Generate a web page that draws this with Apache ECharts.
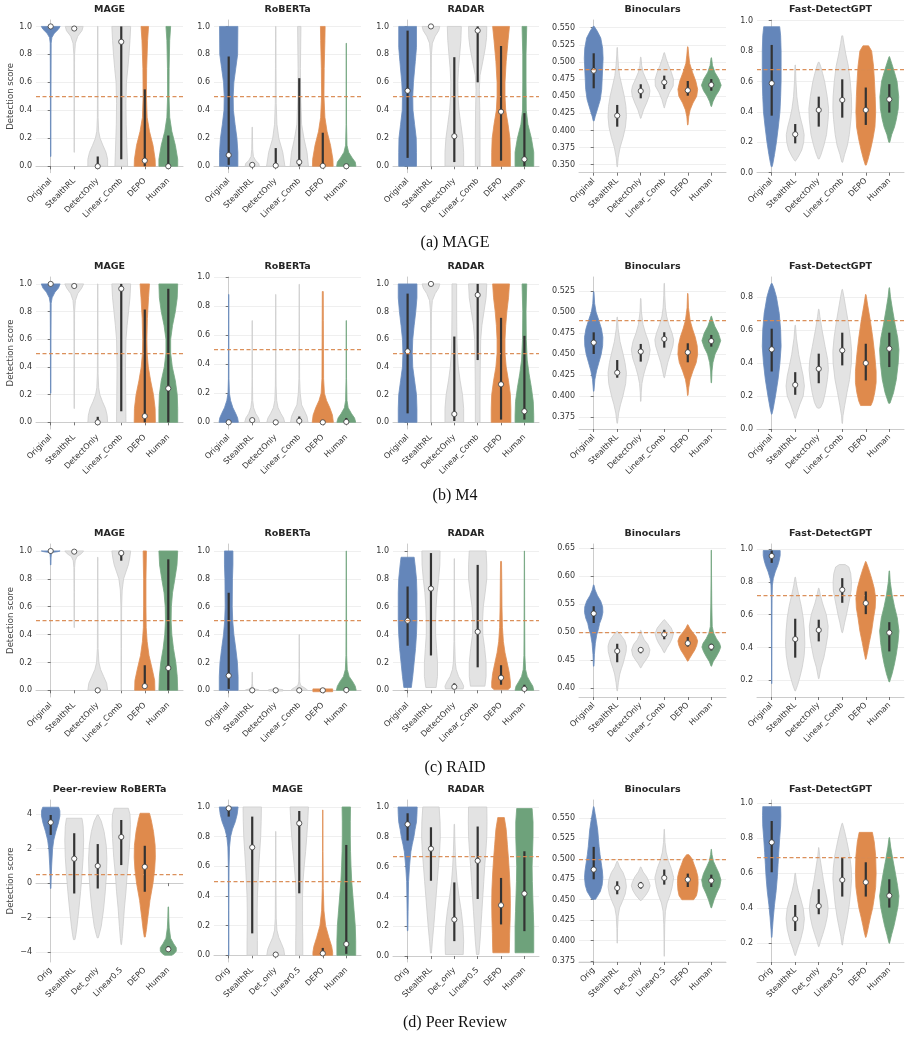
<!DOCTYPE html>
<html>
<head>
<meta charset="utf-8">
<script src="https://cdn.jsdelivr.net/npm/echarts@6/dist/echarts.min.js"></script>
<style>
  html, body { margin: 0; padding: 0; background: #fff; }
  #main { width: 911px; height: 1038px; }
</style>
</head>
<body>
<div id="main"></div>
<script>
// categories
var catsMain = ['Original', 'StealthRL', 'DetectOnly', 'Linear_Comb', 'DEPO', 'Human'];
var catsPeer = ['Orig', 'StealthRL', 'Det_only', 'Linear0.5', 'DEPO', 'Human'];

// y ticks
var ticks01 = [0, 0.2, 0.4, 0.6, 0.8, 1.0];
var ticksHi = [0.2, 0.4, 0.6, 0.8, 1.0];
var ticksFdgB = [0, 0.2, 0.4, 0.6, 0.8];
var ticksBinoA = [0.35, 0.375, 0.4, 0.425, 0.45, 0.475, 0.5, 0.525, 0.55];
var ticksBinoB = [0.375, 0.4, 0.425, 0.45, 0.475, 0.5, 0.525];
var ticksBinoC = [0.4, 0.45, 0.5, 0.55, 0.6, 0.65];
var ticksBinoD = [0.375, 0.4, 0.425, 0.45, 0.475, 0.5, 0.525, 0.55];
var ticksPeer = [-4, -2, 0, 2, 4];

// y limits
var limDetA = [-0.046, 1.046], limBinoA = [0.3383, 0.5612], limFdgA = [0, 1.004];
var limDetB = [-0.048, 1.05], limRobB = [-0.046, 1.0], limBinoB = [0.3611, 0.5416], limFdgB = [0, 0.92];
var limDetC = [-0.048, 1.05], limBinoC = [0.384, 0.657], limFdgC = [0.0985, 1.03];
var limPeerD = [-4.58, 4.83], limMageD = [-0.045, 1.047], limRadarD = [-0.04, 1.047], limBinoD = [0.374, 0.5717], limFdgD = [0.093, 1.019];

// dashed thresholds per row
var thrA = [0.5, 0.5, 0.5, 0.487, 0.68];
var thrB = [0.5, 0.5, 0.5, 0.49, 0.662];
var thrC = [0.5, 0.5, 0.5, 0.497, 0.716];
var thrD = [0.5, 0.5, 0.673, 0.497, 0.695];

// violin outlines: [score, half width] ; boxes: [low, high, median]
// ---- (a) MAGE
var a1_shape = [
  [[0.07,0.008],[0.5,0.012],[0.88,0.02],[0.92,0.05],[0.95,0.15],[0.98,0.33],[1,0.4]],
  [[0.1,0.006],[0.5,0.01],[0.8,0.015],[0.88,0.05],[0.93,0.15],[0.97,0.33],[1,0.38]],
  [[0,0.42],[0.05,0.42],[0.1,0.35],[0.15,0.22],[0.2,0.1],[0.25,0.04],[0.35,0.015],[0.6,0.01],[1,0.01]],
  [[0,0.27],[0.1,0.25],[0.2,0.23],[0.3,0.21],[0.45,0.2],[0.6,0.22],[0.7,0.28],[0.8,0.33],[0.9,0.37],[1,0.4]],
  [[0,0.45],[0.05,0.44],[0.15,0.35],[0.25,0.2],[0.35,0.1],[0.5,0.07],[0.7,0.08],[0.9,0.12],[1,0.16]],
  [[0,0.4],[0.05,0.4],[0.15,0.3],[0.25,0.15],[0.35,0.06],[0.5,0.03],[0.7,0.035],[0.9,0.06],[1,0.1]]
];
var a1_box = [[0.99,1,1],[0.975,0.995,0.985],[0,0.07,0],[0.05,1,0.89],[0,0.55,0.04],[0,0.22,0]];

var a2_shape = [
  [[0,0.39],[0.1,0.39],[0.2,0.35],[0.3,0.27],[0.4,0.2],[0.5,0.19],[0.6,0.22],[0.7,0.3],[0.8,0.38],[1,0.39]],
  [[0,0.3],[0.02,0.28],[0.04,0.15],[0.07,0.05],[0.12,0.02],[0.28,0.005]],
  [[0,0.39],[0.1,0.3],[0.2,0.13],[0.3,0.05],[0.45,0.02],[0.7,0.012],[1,0.008]],
  [[0,0.39],[0.1,0.33],[0.2,0.2],[0.3,0.1],[0.5,0.06],[0.7,0.05],[1,0.07]],
  [[0,0.44],[0.05,0.43],[0.15,0.33],[0.25,0.18],[0.35,0.09],[0.5,0.05],[0.7,0.06],[0.9,0.09],[1,0.1]],
  [[0,0.41],[0.03,0.38],[0.06,0.25],[0.1,0.1],[0.15,0.03],[0.3,0.01],[0.88,0.005]]
];
var a2_box = [[0.01,0.785,0.08],[0.005,0.02,0.01],[0,0.13,0.005],[0,0.63,0.03],[0,0.24,0.003],[0,0.01,0]];

var a3_shape = [
  [[0,0.38],[0.1,0.38],[0.2,0.37],[0.3,0.3],[0.4,0.23],[0.5,0.22],[0.6,0.25],[0.75,0.33],[0.85,0.38],[1,0.38]],
  [[0,0.008],[0.5,0.01],[0.8,0.02],[0.88,0.06],[0.93,0.18],[0.97,0.33],[1,0.38]],
  [[0,0.4],[0.1,0.4],[0.2,0.36],[0.3,0.28],[0.4,0.2],[0.5,0.16],[0.6,0.15],[0.7,0.18],[0.8,0.23],[0.9,0.28],[1,0.3]],
  [[0,0.1],[0.2,0.1],[0.4,0.09],[0.55,0.07],[0.65,0.1],[0.75,0.22],[0.85,0.33],[0.92,0.38],[1,0.39]],
  [[0,0.4],[0.1,0.4],[0.2,0.38],[0.3,0.3],[0.4,0.2],[0.5,0.17],[0.6,0.17],[0.75,0.22],[0.9,0.3],[1,0.36]],
  [[0,0.4],[0.1,0.4],[0.2,0.3],[0.3,0.15],[0.4,0.08],[0.6,0.07],[0.8,0.07],[1,0.1]]
];
var a3_box = [[0.06,0.97,0.54],[0.995,1,1],[0.03,0.78,0.215],[0.6,1,0.97],[0.04,0.86,0.39],[0,0.38,0.05]];

var a4_shape = [
  [[0.414,0.02],[0.42,0.06],[0.43,0.15],[0.445,0.28],[0.46,0.34],[0.475,0.36],[0.49,0.38],[0.505,0.4],[0.52,0.38],[0.535,0.3],[0.545,0.15],[0.552,0.02]],
  [[0.347,0.01],[0.36,0.04],[0.375,0.12],[0.39,0.25],[0.405,0.35],[0.42,0.39],[0.435,0.37],[0.45,0.3],[0.465,0.2],[0.48,0.1],[0.495,0.05],[0.51,0.02],[0.521,0.01]],
  [[0.4177,0.01],[0.42,0.03],[0.43,0.12],[0.44,0.25],[0.45,0.36],[0.458,0.39],[0.465,0.35],[0.475,0.22],[0.485,0.1],[0.495,0.04],[0.507,0.01]],
  [[0.433,0.01],[0.435,0.02],[0.445,0.1],[0.455,0.22],[0.465,0.38],[0.475,0.39],[0.485,0.3],[0.495,0.18],[0.505,0.08],[0.5135,0.01]],
  [[0.408,0.01],[0.42,0.04],[0.43,0.1],[0.44,0.22],[0.45,0.38],[0.46,0.42],[0.472,0.34],[0.485,0.2],[0.498,0.08],[0.51,0.04],[0.522,0.01]],
  [[0.435,0.01],[0.442,0.07],[0.45,0.18],[0.458,0.33],[0.466,0.42],[0.475,0.32],[0.485,0.15],[0.495,0.05],[0.506,0.01]]
];
var a4_box = [[0.4615,0.5126,0.4873],[0.4055,0.4372,0.4216],[0.4469,0.4674,0.4576],[0.4605,0.48,0.4703],[0.4507,0.4722,0.4585],[0.458,0.475,0.4664]];

var a5_shape = [
  [[0.04,0.02],[0.06,0.05],[0.12,0.12],[0.2,0.2],[0.3,0.28],[0.4,0.35],[0.5,0.38],[0.6,0.4],[0.7,0.4],[0.8,0.4],[0.9,0.38],[0.96,0.34]],
  [[0.077,0.01],[0.08,0.03],[0.11,0.15],[0.15,0.28],[0.2,0.36],[0.25,0.38],[0.3,0.32],[0.36,0.22],[0.42,0.14],[0.5,0.07],[0.6,0.03],[0.708,0.01]],
  [[0.09,0.02],[0.12,0.1],[0.18,0.22],[0.25,0.33],[0.35,0.4],[0.42,0.42],[0.5,0.36],[0.6,0.25],[0.65,0.17],[0.7,0.08],[0.726,0.02]],
  [[0.068,0.01],[0.07,0.02],[0.12,0.1],[0.18,0.22],[0.25,0.3],[0.35,0.37],[0.42,0.4],[0.5,0.39],[0.6,0.34],[0.7,0.26],[0.78,0.15],[0.85,0.07],[0.9,0.02]],
  [[0.05,0.02],[0.09,0.1],[0.15,0.2],[0.22,0.3],[0.3,0.39],[0.4,0.42],[0.5,0.4],[0.6,0.37],[0.7,0.33],[0.8,0.25],[0.834,0.12]],
  [[0.2,0.02],[0.25,0.1],[0.3,0.22],[0.35,0.3],[0.42,0.38],[0.5,0.4],[0.6,0.33],[0.66,0.22],[0.72,0.1],[0.763,0.01]]
];
var a5_box = [[0.375,0.84,0.588],[0.193,0.32,0.2524],[0.303,0.5,0.412],[0.362,0.614,0.478],[0.314,0.56,0.412],[0.395,0.582,0.482]];

// ---- (b) M4
var b1_shape = [
  [[0.21,0.008],[0.6,0.012],[0.86,0.02],[0.9,0.06],[0.94,0.18],[0.97,0.33],[1,0.4]],
  [[0.1,0.006],[0.5,0.01],[0.8,0.015],[0.88,0.05],[0.93,0.15],[0.97,0.32],[1,0.4]],
  [[0,0.42],[0.05,0.4],[0.1,0.33],[0.15,0.2],[0.2,0.09],[0.25,0.04],[0.35,0.015],[0.6,0.01],[1,0.008]],
  [[0,0.2],[0.2,0.19],[0.4,0.18],[0.6,0.2],[0.7,0.25],[0.8,0.31],[0.9,0.37],[1,0.4]],
  [[0,0.45],[0.1,0.44],[0.2,0.37],[0.3,0.25],[0.4,0.15],[0.5,0.1],[0.6,0.09],[0.75,0.11],[0.9,0.16],[1,0.2]],
  [[0,0.4],[0.1,0.4],[0.2,0.38],[0.3,0.3],[0.4,0.17],[0.5,0.1],[0.6,0.1],[0.7,0.18],[0.8,0.3],[0.9,0.38],[1,0.4]]
];
var b1_box = [[0.995,1,1],[0.97,0.995,0.985],[0,0.04,0],[0.08,1,0.965],[0,0.815,0.045],[0,0.965,0.245]];

var b2_shape = [
  [[0,0.41],[0.03,0.38],[0.06,0.3],[0.1,0.18],[0.15,0.08],[0.2,0.03],[0.3,0.012],[0.6,0.008],[0.88,0.005]],
  [[0,0.32],[0.03,0.27],[0.06,0.15],[0.1,0.06],[0.15,0.02],[0.3,0.008],[0.7,0.005]],
  [[0,0.38],[0.03,0.33],[0.06,0.22],[0.1,0.1],[0.15,0.04],[0.25,0.015],[0.5,0.008],[0.88,0.005]],
  [[0,0.37],[0.04,0.33],[0.08,0.22],[0.12,0.1],[0.2,0.04],[0.3,0.015],[0.6,0.008],[0.95,0.005]],
  [[0,0.45],[0.05,0.41],[0.1,0.3],[0.15,0.16],[0.2,0.07],[0.3,0.035],[0.5,0.03],[0.7,0.025],[0.9,0.02]],
  [[0,0.4],[0.03,0.35],[0.06,0.22],[0.1,0.08],[0.15,0.03],[0.3,0.01],[0.7,0.005]]
];
var b2_box = [[0,0.005,0],[0.005,0.03,0.015],[0,0.005,0],[0,0.04,0.01],[0,0.005,0],[0,0.03,0.003]];

var b3_shape = [
  [[0,0.4],[0.1,0.4],[0.2,0.38],[0.3,0.3],[0.4,0.22],[0.5,0.2],[0.6,0.22],[0.7,0.28],[0.8,0.35],[0.9,0.4],[1,0.4]],
  [[0,0.008],[0.5,0.01],[0.8,0.02],[0.88,0.06],[0.93,0.18],[0.97,0.33],[1,0.38]],
  [[0,0.4],[0.1,0.4],[0.2,0.35],[0.3,0.25],[0.4,0.17],[0.5,0.13],[0.6,0.11],[0.8,0.1],[1,0.1]],
  [[0,0.1],[0.2,0.1],[0.4,0.11],[0.6,0.13],[0.7,0.18],[0.8,0.27],[0.9,0.36],[1,0.39]],
  [[0,0.42],[0.1,0.42],[0.2,0.4],[0.3,0.32],[0.4,0.22],[0.5,0.17],[0.6,0.17],[0.7,0.2],[0.8,0.25],[0.9,0.32],[1,0.36]],
  [[0,0.4],[0.05,0.4],[0.15,0.38],[0.25,0.3],[0.35,0.2],[0.45,0.12],[0.6,0.08],[0.8,0.07],[1,0.1]]
];
var b3_box = [[0.065,0.93,0.513],[0.995,1,1],[0.01,0.62,0.06],[0.45,1,0.92],[0.02,0.755,0.275],[0.02,0.625,0.08]];

var b4_shape = [
  [[0.406,0.01],[0.42,0.05],[0.43,0.12],[0.44,0.22],[0.45,0.32],[0.46,0.38],[0.47,0.39],[0.48,0.33],[0.49,0.22],[0.5,0.1],[0.51,0.04],[0.524,0.01]],
  [[0.368,0.01],[0.38,0.06],[0.39,0.14],[0.4,0.24],[0.415,0.36],[0.428,0.39],[0.44,0.33],[0.45,0.25],[0.465,0.12],[0.48,0.04],[0.494,0.01]],
  [[0.394,0.01],[0.404,0.02],[0.415,0.05],[0.425,0.12],[0.435,0.22],[0.445,0.34],[0.455,0.4],[0.465,0.33],[0.475,0.2],[0.485,0.1],[0.5,0.03],[0.516,0.01]],
  [[0.422,0.01],[0.43,0.07],[0.44,0.15],[0.45,0.26],[0.46,0.37],[0.467,0.4],[0.475,0.33],[0.485,0.2],[0.495,0.1],[0.505,0.05],[0.52,0.02],[0.534,0.01]],
  [[0.401,0.01],[0.41,0.04],[0.42,0.1],[0.43,0.22],[0.44,0.36],[0.45,0.42],[0.46,0.4],[0.47,0.32],[0.48,0.2],[0.49,0.1],[0.505,0.03],[0.522,0.01]],
  [[0.416,0.01],[0.43,0.03],[0.44,0.07],[0.45,0.16],[0.458,0.3],[0.466,0.4],[0.475,0.3],[0.483,0.15],[0.49,0.06],[0.495,0.01]]
];
var b4_box = [[0.4502,0.4759,0.4637],[0.422,0.443,0.428],[0.4411,0.4621,0.453],[0.4577,0.476,0.468],[0.4403,0.4629,0.4522],[0.4589,0.4728,0.4656]];

var b5_shape = [
  [[0.09,0.01],[0.12,0.06],[0.2,0.16],[0.3,0.27],[0.4,0.35],[0.5,0.4],[0.6,0.38],[0.7,0.32],[0.8,0.2],[0.85,0.1],[0.88,0.02]],
  [[0.065,0.01],[0.1,0.08],[0.15,0.2],[0.2,0.34],[0.26,0.39],[0.32,0.34],[0.38,0.25],[0.45,0.15],[0.55,0.05],[0.628,0.01]],
  [[0.126,0.02],[0.13,0.08],[0.16,0.18],[0.22,0.28],[0.3,0.37],[0.36,0.41],[0.42,0.38],[0.5,0.27],[0.6,0.14],[0.68,0.05],[0.725,0.01]],
  [[0.034,0.01],[0.08,0.03],[0.14,0.1],[0.22,0.2],[0.3,0.31],[0.4,0.39],[0.47,0.4],[0.55,0.35],[0.65,0.25],[0.75,0.13],[0.8,0.07],[0.845,0.01]],
  [[0.142,0.22],[0.17,0.3],[0.22,0.38],[0.28,0.44],[0.35,0.44],[0.45,0.38],[0.55,0.3],[0.65,0.2],[0.75,0.08],[0.814,0.01]],
  [[0.156,0.03],[0.22,0.18],[0.3,0.3],[0.4,0.38],[0.48,0.41],[0.55,0.36],[0.63,0.25],[0.72,0.14],[0.8,0.05],[0.855,0.01]]
];
var b5_box = [[0.348,0.607,0.482],[0.207,0.344,0.267],[0.277,0.456,0.364],[0.385,0.583,0.476],[0.294,0.516,0.399],[0.375,0.583,0.486]];

// ---- (c) RAID
var c1_shape = [
  [[0.9,0.01],[0.95,0.015],[0.98,0.03],[0.99,0.1],[0.995,0.3],[1,0.4]],
  [[0.45,0.006],[0.7,0.01],[0.88,0.015],[0.93,0.04],[0.96,0.12],[0.98,0.3],[1,0.4]],
  [[0,0.42],[0.05,0.38],[0.1,0.25],[0.15,0.12],[0.2,0.05],[0.3,0.015],[0.6,0.01],[0.955,0.006]],
  [[0,0.008],[0.3,0.01],[0.6,0.015],[0.72,0.04],[0.8,0.1],[0.85,0.2],[0.9,0.3],[0.95,0.36],[1,0.4]],
  [[0,0.43],[0.07,0.42],[0.15,0.32],[0.25,0.18],[0.35,0.1],[0.45,0.06],[0.6,0.05],[0.8,0.05],[1,0.07]],
  [[0,0.4],[0.1,0.38],[0.2,0.32],[0.3,0.22],[0.4,0.15],[0.5,0.12],[0.6,0.13],[0.7,0.18],[0.8,0.28],[0.9,0.37],[1,0.4]]
];
var c1_box = [[0.995,1,1],[0.985,1,0.995],[0,0.01,0],[0.93,1,0.985],[0.01,0.18,0.03],[0,0.94,0.16]];

var c2_shape = [
  [[0,0.4],[0.1,0.4],[0.2,0.37],[0.3,0.3],[0.4,0.22],[0.5,0.17],[0.6,0.15],[0.8,0.16],[0.9,0.18],[1,0.18]],
  [[0,0.3],[0.005,0.25],[0.01,0.1],[0.02,0.03],[0.05,0.01],[0.13,0.005]],
  [[-0.005,0.3],[0.005,0.3],[0.01,0.02]],
  [[0,0.35],[0.01,0.3],[0.02,0.2],[0.035,0.06],[0.06,0.02],[0.15,0.01],[0.4,0.005]],
  [[-0.01,0.42],[0.01,0.42]],
  [[0,0.42],[0.03,0.38],[0.06,0.28],[0.1,0.12],[0.15,0.04],[0.25,0.015],[0.6,0.01],[1,0.005]]
];
var c2_box = [[0.01,0.7,0.105],[0,0.005,0],[0,0.003,0],[0,0.01,0],[0,0.002,0],[0,0.02,0.002]];

var c3_shape = [
  [[0.02,0.16],[0.1,0.22],[0.2,0.28],[0.3,0.34],[0.4,0.38],[0.5,0.4],[0.6,0.4],[0.7,0.4],[0.8,0.38],[0.9,0.32],[0.955,0.28]],
  [[0.02,0.22],[0.1,0.28],[0.2,0.28],[0.3,0.24],[0.4,0.2],[0.5,0.2],[0.6,0.22],[0.7,0.26],[0.8,0.33],[0.9,0.38],[1,0.39]],
  [[0.01,0.38],[0.03,0.4],[0.06,0.32],[0.1,0.18],[0.15,0.08],[0.2,0.04],[0.35,0.015],[0.945,0.006]],
  [[0.03,0.31],[0.1,0.36],[0.2,0.36],[0.3,0.3],[0.4,0.22],[0.5,0.21],[0.6,0.24],[0.7,0.32],[0.8,0.39],[0.9,0.39],[1,0.36]],
  [[0.005,0.3],[0.02,0.4],[0.06,0.4],[0.12,0.36],[0.2,0.26],[0.27,0.17],[0.35,0.1],[0.45,0.06],[0.6,0.04],[0.8,0.03],[0.925,0.02]],
  [[0,0.4],[0.03,0.36],[0.06,0.25],[0.1,0.12],[0.15,0.05],[0.25,0.02],[0.5,0.012],[1,0.005]]
];
var c3_box = [[0.32,0.745,0.5],[0.25,0.985,0.73],[0.015,0.05,0.025],[0.165,0.9,0.42],[0.04,0.18,0.09],[0,0.04,0.01]];

var c4_shape = [
  [[0.439,0.01],[0.46,0.03],[0.48,0.07],[0.495,0.13],[0.505,0.2],[0.515,0.25],[0.525,0.34],[0.535,0.39],[0.545,0.38],[0.555,0.3],[0.565,0.16],[0.575,0.06],[0.584,0.01]],
  [[0.395,0.01],[0.41,0.05],[0.425,0.11],[0.435,0.18],[0.445,0.26],[0.455,0.32],[0.465,0.38],[0.475,0.39],[0.485,0.32],[0.495,0.15],[0.501,0.02]],
  [[0.436,0.01],[0.443,0.1],[0.45,0.22],[0.458,0.34],[0.468,0.39],[0.478,0.3],[0.486,0.15],[0.495,0.05],[0.503,0.01]],
  [[0.463,0.01],[0.472,0.12],[0.48,0.24],[0.488,0.33],[0.497,0.39],[0.507,0.3],[0.515,0.15],[0.522,0.01]],
  [[0.448,0.01],[0.453,0.08],[0.46,0.18],[0.468,0.3],[0.476,0.38],[0.484,0.42],[0.492,0.35],[0.5,0.2],[0.507,0.08],[0.513,0.01]],
  [[0.439,0.01],[0.447,0.08],[0.455,0.2],[0.465,0.33],[0.473,0.4],[0.48,0.35],[0.488,0.22],[0.498,0.1],[0.51,0.04],[0.55,0.02],[0.6,0.01],[0.646,0.005]]
];
var c4_box = [[0.516,0.546,0.533],[0.446,0.479,0.466],[0.462,0.473,0.468],[0.487,0.504,0.496],[0.474,0.491,0.48],[0.467,0.479,0.4736]];

var c5_shape = [
  [[0.18,0.006],[0.5,0.01],[0.7,0.015],[0.78,0.03],[0.82,0.07],[0.86,0.15],[0.9,0.26],[0.93,0.32],[0.96,0.36],[0.99,0.36]],
  [[0.135,0.01],[0.17,0.1],[0.22,0.2],[0.28,0.3],[0.35,0.38],[0.42,0.41],[0.5,0.39],[0.58,0.34],[0.65,0.26],[0.72,0.15],[0.78,0.06],[0.828,0.01]],
  [[0.21,0.01],[0.28,0.1],[0.34,0.22],[0.4,0.3],[0.47,0.38],[0.53,0.4],[0.6,0.32],[0.67,0.16],[0.72,0.07],[0.761,0.01]],
  [[0.49,0.01],[0.5,0.03],[0.55,0.1],[0.6,0.18],[0.65,0.25],[0.7,0.32],[0.75,0.38],[0.8,0.39],[0.85,0.36],[0.89,0.28],[0.905,0.12]],
  [[0.328,0.01],[0.37,0.07],[0.43,0.15],[0.5,0.25],[0.58,0.33],[0.64,0.4],[0.7,0.42],[0.76,0.36],[0.82,0.25],[0.88,0.12],[0.923,0.01]],
  [[0.19,0.01],[0.24,0.12],[0.3,0.22],[0.36,0.3],[0.43,0.37],[0.5,0.41],[0.58,0.34],[0.65,0.22],[0.72,0.12],[0.8,0.04],[0.866,0.01]]
];
var c5_box = [[0.915,0.99,0.957],[0.338,0.575,0.451],[0.437,0.569,0.506],[0.672,0.822,0.751],[0.603,0.741,0.67],[0.376,0.554,0.49]];

// ---- (d) Peer Review
var d1_shape = [
  [[-0.31,0.01],[0.3,0.02],[1,0.04],[2,0.08],[2.5,0.13],[3,0.22],[3.5,0.33],[3.9,0.39],[4.2,0.39],[4.41,0.34]],
  [[-3.28,0.03],[-3,0.07],[-2.5,0.12],[-1.5,0.2],[-0.5,0.27],[0.5,0.33],[1.5,0.38],[2.5,0.4],[3.3,0.38],[3.77,0.33]],
  [[-3.18,0.02],[-3,0.06],[-2.5,0.15],[-1.5,0.25],[-0.5,0.32],[0.5,0.37],[1.4,0.39],[2.2,0.36],[3,0.27],[3.6,0.15],[3.96,0.02]],
  [[-3.57,0.01],[-3.2,0.04],[-2.5,0.08],[-1.5,0.13],[-0.5,0.2],[0.5,0.25],[1.5,0.32],[2.6,0.37],[3.4,0.39],[4,0.37],[4.35,0.3]],
  [[-3.13,0.02],[-2.7,0.07],[-2,0.13],[-1,0.22],[0,0.35],[0.8,0.42],[1.5,0.45],[2.2,0.44],[3,0.37],[3.7,0.27],[4.06,0.2]],
  [[-4.19,0.15],[-4.1,0.25],[-3.95,0.34],[-3.75,0.34],[-3.5,0.22],[-3.2,0.1],[-2.6,0.04],[-2,0.02],[-1.38,0.01]]
];
var d1_box = [[2.8,3.96,3.53],[-0.6,2.9,1.42],[-0.31,2.27,1.0],[1.05,3.67,2.68],[-0.5,2.17,0.95],[-3.96,-3.65,-3.84]];

var d2_shape = [
  [[0,0.005],[0.3,0.008],[0.6,0.015],[0.73,0.035],[0.8,0.08],[0.85,0.16],[0.9,0.28],[0.95,0.36],[1,0.4]],
  [[0,0.22],[0.1,0.22],[0.2,0.21],[0.3,0.21],[0.4,0.22],[0.5,0.25],[0.6,0.28],[0.7,0.32],[0.8,0.36],[0.9,0.38],[1,0.39]],
  [[0,0.38],[0.04,0.34],[0.08,0.24],[0.12,0.13],[0.17,0.05],[0.25,0.02],[0.5,0.01],[0.835,0.005]],
  [[0,0.15],[0.1,0.15],[0.2,0.14],[0.3,0.14],[0.4,0.14],[0.5,0.16],[0.6,0.21],[0.7,0.27],[0.8,0.32],[0.9,0.36],[1,0.39]],
  [[0,0.42],[0.02,0.42],[0.06,0.38],[0.12,0.26],[0.2,0.12],[0.3,0.05],[0.45,0.02],[0.7,0.01],[0.98,0.005]],
  [[0,0.4],[0.1,0.4],[0.2,0.38],[0.3,0.33],[0.4,0.28],[0.5,0.23],[0.6,0.2],[0.7,0.18],[0.8,0.17],[0.9,0.17],[1,0.18]]
];
var d2_box = [[0.935,1,0.991],[0.148,0.935,0.728],[0,0.02,0.005],[0.418,0.973,0.89],[0,0.05,0.013],[0.01,0.744,0.076]];

var d3_shape = [
  [[0.17,0.01],[0.3,0.02],[0.5,0.04],[0.6,0.08],[0.7,0.14],[0.75,0.2],[0.8,0.27],[0.85,0.32],[0.9,0.38],[0.95,0.4],[1,0.41]],
  [[0.02,0.02],[0.1,0.06],[0.2,0.12],[0.3,0.17],[0.4,0.22],[0.5,0.27],[0.6,0.32],[0.7,0.37],[0.8,0.4],[0.9,0.39],[1,0.35]],
  [[0.01,0.38],[0.1,0.4],[0.2,0.37],[0.3,0.3],[0.4,0.2],[0.5,0.12],[0.6,0.07],[0.7,0.04],[0.8,0.02],[0.884,0.01]],
  [[0.01,0.05],[0.1,0.1],[0.2,0.14],[0.3,0.18],[0.4,0.22],[0.5,0.26],[0.6,0.3],[0.7,0.35],[0.8,0.39],[0.9,0.4],[1,0.39]],
  [[0.022,0.35],[0.06,0.36],[0.15,0.37],[0.25,0.39],[0.35,0.4],[0.45,0.39],[0.55,0.36],[0.65,0.32],[0.75,0.27],[0.85,0.22],[0.929,0.14]],
  [[0.022,0.4],[0.1,0.4],[0.2,0.4],[0.3,0.38],[0.4,0.36],[0.5,0.34],[0.6,0.33],[0.7,0.35],[0.8,0.37],[0.9,0.37],[0.99,0.33]]
];
var d3_box = [[0.775,0.958,0.884],[0.505,0.864,0.72],[0.1,0.494,0.245],[0.383,0.869,0.639],[0.212,0.524,0.341],[0.167,0.703,0.419]];

var d4_shape = [
  [[0.4505,0.08],[0.46,0.28],[0.468,0.36],[0.477,0.39],[0.485,0.37],[0.495,0.32],[0.505,0.27],[0.515,0.23],[0.525,0.2],[0.535,0.17],[0.545,0.12],[0.555,0.06],[0.5635,0.01]],
  [[0.397,0.005],[0.415,0.015],[0.43,0.04],[0.44,0.1],[0.448,0.22],[0.457,0.34],[0.466,0.39],[0.475,0.35],[0.483,0.25],[0.49,0.1],[0.497,0.01]],
  [[0.449,0.02],[0.455,0.2],[0.461,0.33],[0.467,0.4],[0.472,0.35],[0.478,0.25],[0.484,0.1],[0.49,0.01]],
  [[0.381,0.005],[0.4,0.01],[0.42,0.02],[0.436,0.05],[0.446,0.12],[0.456,0.25],[0.466,0.34],[0.477,0.4],[0.488,0.3],[0.498,0.17],[0.508,0.08],[0.52,0.03],[0.536,0.005]],
  [[0.45,0.25],[0.455,0.37],[0.462,0.42],[0.47,0.44],[0.478,0.43],[0.486,0.36],[0.493,0.27],[0.5,0.18],[0.505,0.05]],
  [[0.44,0.01],[0.45,0.12],[0.458,0.23],[0.466,0.36],[0.474,0.41],[0.482,0.33],[0.49,0.2],[0.497,0.09],[0.505,0.03],[0.5116,0.005]]
];
var d4_box = [[0.4749,0.5145,0.4868],[0.4566,0.4725,0.4643],[0.4635,0.4717,0.4676],[0.4684,0.4868,0.4766],[0.4655,0.4819,0.4745],[0.4655,0.4806,0.4733]];

var d5_shape = [
  [[0.234,0.01],[0.28,0.03],[0.35,0.07],[0.42,0.12],[0.5,0.19],[0.58,0.24],[0.65,0.27],[0.72,0.3],[0.8,0.34],[0.87,0.38],[0.93,0.39],[0.981,0.38]],
  [[0.13,0.01],[0.17,0.1],[0.22,0.23],[0.28,0.34],[0.34,0.39],[0.4,0.34],[0.45,0.24],[0.5,0.13],[0.55,0.05],[0.6,0.01]],
  [[0.181,0.01],[0.21,0.07],[0.25,0.17],[0.3,0.28],[0.35,0.36],[0.4,0.4],[0.45,0.36],[0.5,0.28],[0.56,0.2],[0.63,0.12],[0.7,0.04],[0.747,0.005]],
  [[0.19,0.01],[0.24,0.06],[0.3,0.15],[0.35,0.22],[0.42,0.3],[0.5,0.36],[0.57,0.4],[0.63,0.38],[0.7,0.32],[0.78,0.2],[0.84,0.1],[0.886,0.01]],
  [[0.234,0.01],[0.26,0.06],[0.3,0.12],[0.35,0.2],[0.4,0.29],[0.45,0.35],[0.52,0.42],[0.6,0.44],[0.7,0.42],[0.78,0.36],[0.834,0.28]],
  [[0.2,0.01],[0.25,0.1],[0.3,0.2],[0.35,0.28],[0.41,0.37],[0.47,0.41],[0.53,0.35],[0.6,0.26],[0.68,0.15],[0.75,0.06],[0.804,0.01]]
];
var d5_box = [[0.606,0.899,0.777],[0.27,0.419,0.339],[0.366,0.509,0.413],[0.467,0.69,0.562],[0.467,0.663,0.549],[0.404,0.566,0.472]];

var captions = ['(a) MAGE', '(b) M4', '(c) RAID', '(d) Peer Review'];

// panels, row by row
var panels = [
  {t: 'MAGE', s: a1_shape, b: a1_box, c: catsMain, lim: limDetA, ticks: ticks01, dec: 1, thr: thrA[0]},
  {t: 'RoBERTa', s: a2_shape, b: a2_box, c: catsMain, lim: limDetA, ticks: ticks01, dec: 1, thr: thrA[1]},
  {t: 'RADAR', s: a3_shape, b: a3_box, c: catsMain, lim: limDetA, ticks: ticks01, dec: 1, thr: thrA[2]},
  {t: 'Binoculars', s: a4_shape, b: a4_box, c: catsMain, lim: limBinoA, ticks: ticksBinoA, dec: 3, thr: thrA[3]},
  {t: 'Fast-DetectGPT', s: a5_shape, b: a5_box, c: catsMain, lim: limFdgA, ticks: ticks01, dec: 1, thr: thrA[4]},

  {t: 'MAGE', s: b1_shape, b: b1_box, c: catsMain, lim: limDetB, ticks: ticks01, dec: 1, thr: thrB[0]},
  {t: 'RoBERTa', s: b2_shape, b: b2_box, c: catsMain, lim: limRobB, ticks: ticks01, dec: 1, thr: thrB[1]},
  {t: 'RADAR', s: b3_shape, b: b3_box, c: catsMain, lim: limDetB, ticks: ticks01, dec: 1, thr: thrB[2]},
  {t: 'Binoculars', s: b4_shape, b: b4_box, c: catsMain, lim: limBinoB, ticks: ticksBinoB, dec: 3, thr: thrB[3]},
  {t: 'Fast-DetectGPT', s: b5_shape, b: b5_box, c: catsMain, lim: limFdgB, ticks: ticksFdgB, dec: 1, thr: thrB[4]},

  {t: 'MAGE', s: c1_shape, b: c1_box, c: catsMain, lim: limDetC, ticks: ticks01, dec: 1, thr: thrC[0]},
  {t: 'RoBERTa', s: c2_shape, b: c2_box, c: catsMain, lim: limDetC, ticks: ticks01, dec: 1, thr: thrC[1]},
  {t: 'RADAR', s: c3_shape, b: c3_box, c: catsMain, lim: limDetC, ticks: ticks01, dec: 1, thr: thrC[2]},
  {t: 'Binoculars', s: c4_shape, b: c4_box, c: catsMain, lim: limBinoC, ticks: ticksBinoC, dec: 2, thr: thrC[3]},
  {t: 'Fast-DetectGPT', s: c5_shape, b: c5_box, c: catsMain, lim: limFdgC, ticks: ticksHi, dec: 1, thr: thrC[4]},

  {t: 'Peer-review RoBERTa', s: d1_shape, b: d1_box, c: catsPeer, lim: limPeerD, ticks: ticksPeer, dec: 0, thr: thrD[0]},
  {t: 'MAGE', s: d2_shape, b: d2_box, c: catsPeer, lim: limMageD, ticks: ticks01, dec: 1, thr: thrD[1]},
  {t: 'RADAR', s: d3_shape, b: d3_box, c: catsPeer, lim: limRadarD, ticks: ticks01, dec: 1, thr: thrD[2]},
  {t: 'Binoculars', s: d4_shape, b: d4_box, c: catsPeer, lim: limBinoD, ticks: ticksBinoD, dec: 3, thr: thrD[3]},
  {t: 'Fast-DetectGPT', s: d5_shape, b: d5_box, c: catsPeer, lim: limFdgD, ticks: ticksHi, dec: 1, thr: thrD[4]}
];

// layout (pixels)
var colX = [[36, 183], [214, 361], [393, 539], [579, 726], [757, 904]];
var rowY = [[20, 172.7], [277, 429], [544, 697], [800, 962]];
var titleY = [10, 267, 534, 790];
var captionY = [243, 496, 768, 1023];

var fills = ['#6486ba', '#e3e3e3', '#e3e3e3', '#e3e3e3', '#df8a4c', '#6ea27b'];
var edges = ['#6a8bbd', '#cdcdcd', '#cdcdcd', '#cdcdcd', '#e08f55', '#74a680'];
var FONT = 'DejaVu Sans';
var xPos = [0, 1, 2, 3, 4, 5];

function fmtTick(v, dec) {
  if (dec === 0) return v < 0 ? '\u2212' + Math.abs(v) : String(v);
  return v.toFixed(dec);
}

function makeRender(p) {
  return function (params, api) {
    var i = params.dataIndex;
    var prof = p.s[i];
    var pts = [];
    for (var k = 0; k < prof.length; k++) pts.push(api.coord([i + prof[k][1], prof[k][0]]));
    for (var k2 = prof.length - 1; k2 >= 0; k2--) pts.push(api.coord([i - prof[k2][1], prof[k2][0]]));
    var b = p.b[i];
    var lo = api.coord([i, b[0]]), hi = api.coord([i, b[1]]), md = api.coord([i, b[2]]);
    return {
      type: 'group',
      children: [
        {type: 'polygon', shape: {points: pts}, style: {fill: fills[i], stroke: edges[i], lineWidth: 0.8}},
        {type: 'line', shape: {x1: lo[0], y1: lo[1], x2: hi[0], y2: hi[1]}, style: {stroke: '#333333', lineWidth: 2.2}},
        {type: 'circle', shape: {cx: md[0], cy: md[1], r: 2.6}, style: {fill: '#ffffff', stroke: '#333333', lineWidth: 0.8}}
      ]
    };
  };
}

var grids = [], xAxes = [], yAxes = [], series = [], graphics = [];

panels.forEach(function (p, g) {
  var r = Math.floor(g / 5), c = g % 5;
  var x0 = colX[c][0], x1 = colX[c][1], y0 = rowY[r][0], y1 = rowY[r][1];
  grids.push({left: x0, top: y0, width: x1 - x0, height: y1 - y0});
  xAxes.push({
    gridIndex: g, type: 'value', min: -0.625, max: 5.625,
    axisLine: {show: true, lineStyle: {color: '#cccccc', width: 1}},
    axisTick: {show: true, customValues: xPos, length: 3, lineStyle: {color: '#555555', width: 0.8}},
    axisLabel: {customValues: xPos, rotate: 45, margin: 7, fontSize: 8, color: '#333333', fontFamily: FONT,
      formatter: (function (cats) { return function (v) { return cats[Math.round(v)]; }; })(p.c)},
    splitLine: {show: false}
  });
  yAxes.push({
    gridIndex: g, type: 'value', min: p.lim[0], max: p.lim[1],
    name: c === 0 ? 'Detection score' : '', nameLocation: 'middle', nameGap: 21,
    nameTextStyle: {fontSize: 8.5, color: '#444444', fontFamily: FONT},
    axisLine: {show: true, lineStyle: {color: '#cccccc', width: 1}},
    axisTick: {show: true, customValues: p.ticks, length: 3, lineStyle: {color: '#555555', width: 0.8}},
    axisLabel: {customValues: p.ticks, margin: 4, fontSize: 8, color: '#333333', fontFamily: FONT,
      formatter: (function (d) { return function (v) { return fmtTick(v, d); }; })(p.dec)},
    splitLine: {show: true, lineStyle: {color: '#ebebeb', width: 0.8}}
  });
  series.push({
    type: 'custom', xAxisIndex: g, yAxisIndex: g, clip: false,
    renderItem: makeRender(p),
    data: p.b.map(function (bx, i) { return [i, bx[2]]; }),
    markLine: {
      silent: true, symbol: ['none', 'none'], label: {show: false},
      lineStyle: {type: [4, 2.5], color: '#d98a52', width: 1.25, opacity: 0.95},
      data: [{yAxis: p.thr}]
    },
    z: 2
  });
  graphics.push({
    type: 'text', x: (x0 + x1) / 2, y: titleY[r],
    style: {text: p.t, font: 'bold 9.5px "DejaVu Sans"', fill: '#262626', align: 'center', verticalAlign: 'middle'}
  });
});

captions.forEach(function (t, r) {
  graphics.push({
    type: 'text', x: 455, y: captionY[r],
    style: {text: t, font: '16px "Liberation Serif"', fill: '#111111', align: 'center', verticalAlign: 'middle'}
  });
});

var chart = echarts.init(document.getElementById('main'), null, {renderer: 'canvas'});
chart.setOption({
  animation: false,
  backgroundColor: '#ffffff',
  grid: grids,
  xAxis: xAxes,
  yAxis: yAxes,
  series: series,
  graphic: graphics
});
</script>
</body>
</html>
